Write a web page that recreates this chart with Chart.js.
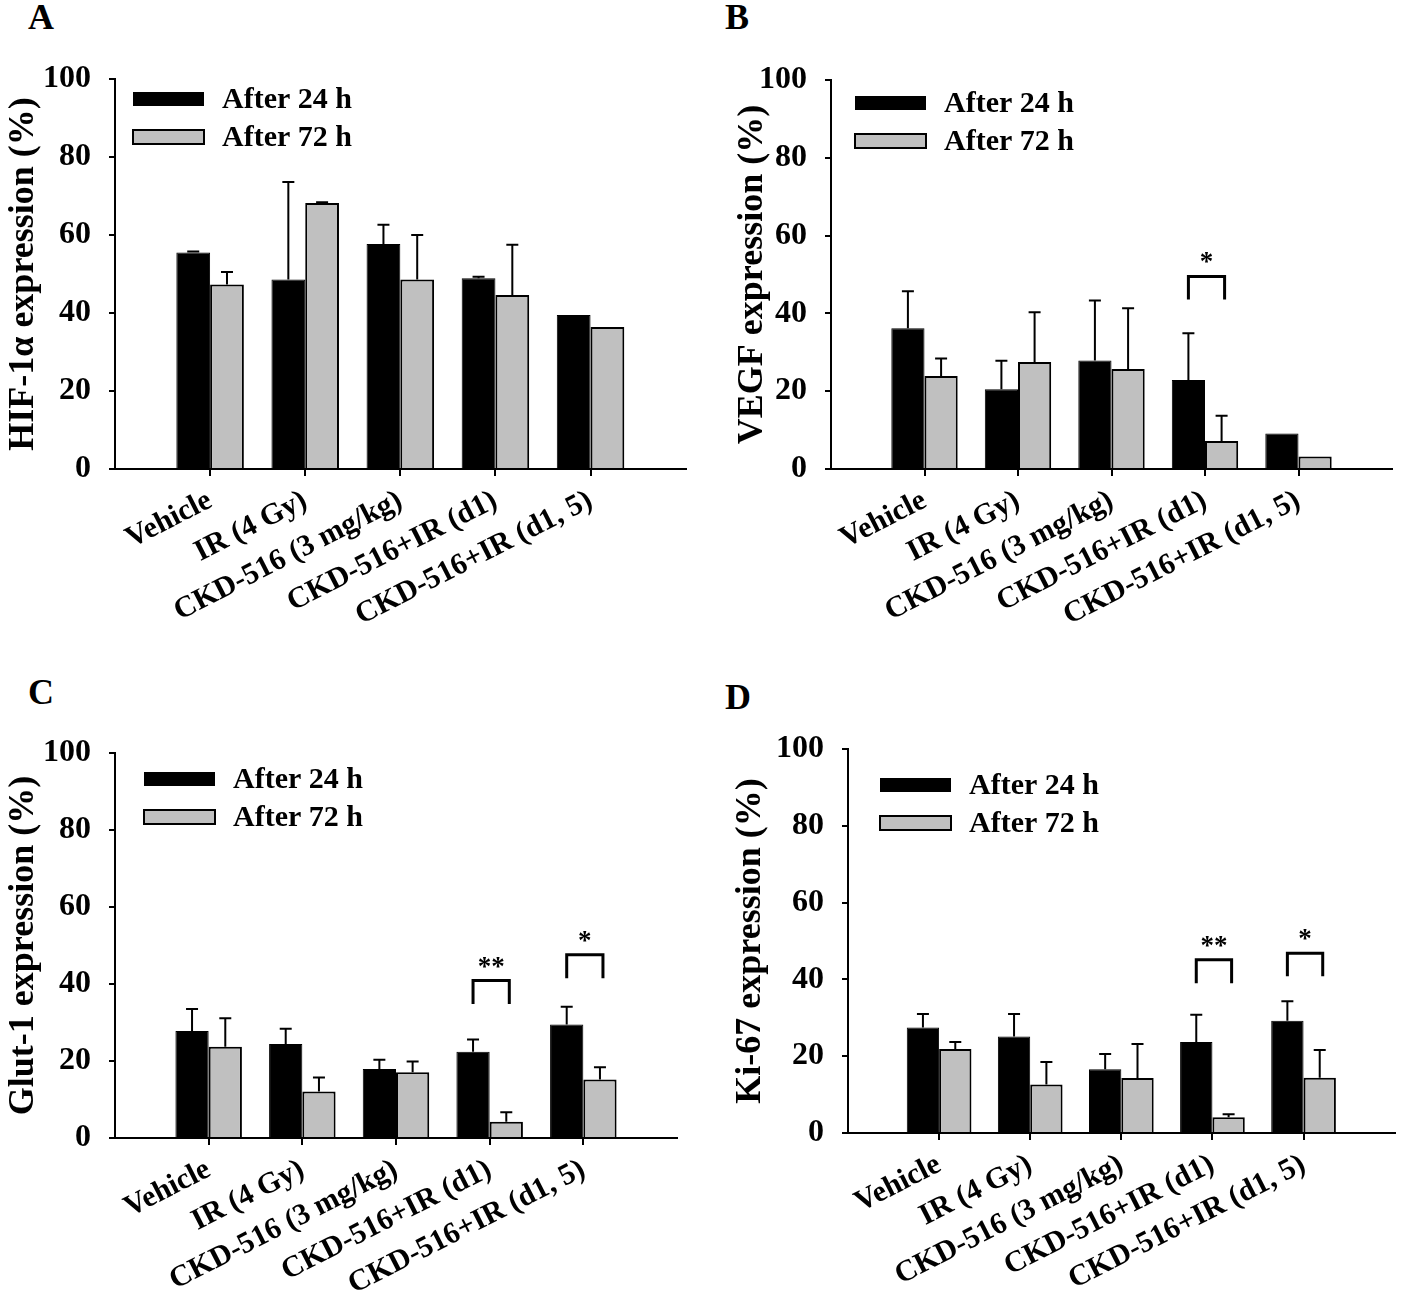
<!DOCTYPE html>
<html><head><meta charset="utf-8">
<script src="https://cdn.jsdelivr.net/npm/chart.js@4.4.1/dist/chart.umd.min.js"></script>
<style>
body{margin:0;background:#fff;}
#wrap{position:relative;width:1418px;height:1298px;overflow:hidden;background:#fff;}
canvas{position:absolute;}
.lbl{position:absolute;font-family:'Liberation Serif','Times New Roman',serif;font-weight:bold;font-size:36px;line-height:36px;color:#000;}
</style></head><body>
<div id="wrap">
<div class="lbl" style="left:28px;top:-1px">A</div>
<div class="lbl" style="left:725px;top:-1px">B</div>
<div class="lbl" style="left:28px;top:674px">C</div>
<div class="lbl" style="left:725px;top:679px">D</div>
<canvas id="cA" width="709" height="650" style="left:0;top:0"></canvas>
<canvas id="cB" width="709" height="650" style="left:709px;top:0"></canvas>
<canvas id="cC" width="709" height="648" style="left:0;top:650px"></canvas>
<canvas id="cD" width="709" height="648" style="left:709px;top:650px"></canvas>
</div>
<script>
// ---------- DATA ----------
const categories = ['Vehicle', 'IR (4 Gy)', 'CKD-516 (3 mg/kg)', 'CKD-516+IR (d1)', 'CKD-516+IR (d1, 5)'];
const seriesNames = ['After 24 h', 'After 72 h'];
const yTickValues = [0, 20, 40, 60, 80, 100];

// A: HIF-1α
const hifAfter24 = [55.5, 48.6, 57.7, 48.9, 39.5];
const hifErr24   = [0.3, 25.0, 4.9, 0.4, 0];
const hifAfter72 = [47.3, 68.2, 48.6, 44.6, 36.4];
const hifErr72   = [3.2, 0.2, 11.4, 12.9, 0];
const hifSigGroup = [], hifSigLow = [], hifSigHigh = [], hifSigText = [];

// B: VEGF
const vegfAfter24 = [36.2, 20.5, 27.9, 22.9, 9.1];
const vegfErr24   = [9.5, 7.3, 15.4, 12.0, 0];
const vegfAfter72 = [23.9, 27.5, 25.7, 7.2, 3.2];
const vegfErr72   = [4.5, 12.8, 15.6, 6.5, 0];
const vegfSigGroup = [3], vegfSigLow = [43.6], vegfSigHigh = [49.5], vegfSigText = ['*'];

// C: Glut-1
const glutAfter24 = [27.8, 24.4, 17.9, 22.4, 29.5];
const glutErr24   = [5.7, 4.0, 2.4, 3.2, 4.6];
const glutAfter72 = [23.7, 12.1, 17.1, 4.2, 15.2];
const glutErr72   = [7.4, 3.6, 2.8, 2.5, 3.2];
const glutSigGroup = [3, 4], glutSigLow = [34.8, 41.5], glutSigHigh = [40.9, 47.6], glutSigText = ['**', '*'];

// D: Ki-67
const kiAfter24 = [27.5, 25.1, 16.6, 23.7, 29.2];
const kiErr24   = [3.5, 5.9, 4.0, 7.1, 5.1];
const kiAfter72 = [21.9, 12.6, 14.3, 4.1, 14.4];
const kiErr72   = [1.8, 5.9, 8.9, 0.8, 7.2];
const kiSigGroup = [3, 4], kiSigLow = [39.0, 40.8], kiSigHigh = [45.1, 46.8], kiSigText = ['**', '*'];

// ---------- STYLE / LAYOUT ----------
const FONT = "'Liberation Serif', 'Times New Roman', serif";
const GRAY = '#c0c0c0';

const panels = [
  {id:'cA', title:'HIF-1\u03b1 expression (%)', a24:hifAfter24, e24:hifErr24, a72:hifAfter72, e72:hifErr72,
   sig:[hifSigGroup,hifSigLow,hifSigHigh,hifSigText],
   yW:115, padTop:79, padRight:21, xH:181, titlePad:2, legDx:18, legDy:13},
  {id:'cB', title:'VEGF expression (%)', a24:vegfAfter24, e24:vegfErr24, a72:vegfAfter72, e72:vegfErr72,
   sig:[vegfSigGroup,vegfSigLow,vegfSigHigh,vegfSigText],
   yW:122, padTop:80, padRight:26, xH:181, titlePad:22, legDx:24, legDy:16},
  {id:'cC', title:'Glut-1 expression (%)', a24:glutAfter24, e24:glutErr24, a72:glutAfter72, e72:glutErr72,
   sig:[glutSigGroup,glutSigLow,glutSigHigh,glutSigText],
   yW:115, padTop:103, padRight:32, xH:160, titlePad:2, legDx:29, legDy:19},
  {id:'cD', title:'Ki-67 expression (%)', a24:kiAfter24, e24:kiErr24, a72:kiAfter72, e72:kiErr72,
   sig:[kiSigGroup,kiSigLow,kiSigHigh,kiSigText],
   yW:139, padTop:99, padRight:3, xH:165, titlePad:20, legDx:32, legDy:29}
];

const pad = arr => [null, ...arr, null];
const labels = ['', ...categories, ''];

function extras(p){
  return {
    id: 'extras',
    afterDatasetsDraw(chart){
      const ctx = chart.ctx, y = chart.scales.y, ca = chart.chartArea;
      const vals = [p.a24, p.a72], errs = [p.e24, p.e72];
      ctx.save();
      ctx.strokeStyle = '#000'; ctx.fillStyle = '#000';
      // error bars (upper only)
      ctx.lineWidth = 2;
      for (let d = 0; d < 2; d++) {
        const meta = chart.getDatasetMeta(d);
        errs[d].forEach((e, i) => {
          if (!e) return;
          const el = meta.data[i + 1];
          const yt = y.getPixelForValue(vals[d][i] + e);
          ctx.beginPath();
          ctx.moveTo(el.x, el.y); ctx.lineTo(el.x, yt);
          ctx.moveTo(el.x - 6, yt); ctx.lineTo(el.x + 6, yt);
          ctx.stroke();
        });
      }
      // significance brackets
      const [g, lo, hi, tx] = p.sig;
      g.forEach((gi, k) => {
        const x1 = chart.getDatasetMeta(0).data[gi + 1].x;
        const x2 = chart.getDatasetMeta(1).data[gi + 1].x + 3;
        const yl = y.getPixelForValue(lo[k]), yh = y.getPixelForValue(hi[k]);
        ctx.lineWidth = 3;
        ctx.beginPath();
        ctx.moveTo(x1, yl); ctx.lineTo(x1, yh); ctx.lineTo(x2, yh); ctx.lineTo(x2, yl);
        ctx.stroke();
        ctx.font = 'bold 27px ' + FONT;
        ctx.textAlign = 'center'; ctx.textBaseline = 'alphabetic';
        ctx.fillText(tx[k], (x1 + x2) / 2, yh - 6);
      });
      // legend
      const lx = ca.left + p.legDx, ly = ca.top + p.legDy, bw = 71, bh = 14, gap = 38;
      ctx.fillStyle = '#000';
      ctx.fillRect(lx, ly, bw, bh);
      ctx.fillStyle = GRAY;
      ctx.fillRect(lx, ly + gap, bw, bh);
      ctx.lineWidth = 2; ctx.strokeStyle = '#000';
      ctx.strokeRect(lx, ly + gap, bw, bh);
      ctx.fillStyle = '#000';
      ctx.font = 'bold 30px ' + FONT;
      ctx.textAlign = 'left'; ctx.textBaseline = 'middle';
      ctx.fillText(seriesNames[0], lx + bw + 18, ly + bh / 2 + 1);
      ctx.fillText(seriesNames[1], lx + bw + 18, ly + gap + bh / 2 + 1);
      ctx.restore();
    }
  };
}

panels.forEach(p => {
  new Chart(document.getElementById(p.id), {
    type: 'bar',
    data: {
      labels: labels,
      datasets: [
        {label: seriesNames[0], data: pad(p.a24), backgroundColor: '#000', borderColor: '#000', borderWidth: 1},
        {label: seriesNames[1], data: pad(p.a72), backgroundColor: GRAY, borderColor: '#000', borderWidth: 2}
      ]
    },
    options: {
      responsive: false,
      animation: false,
      events: [],
      layout: {padding: {left: 0, top: p.padTop, right: p.padRight, bottom: 0}},
      datasets: {bar: {categoryPercentage: 0.71, barPercentage: 1.0}},
      plugins: {legend: {display: false}, tooltip: {enabled: false}},
      scales: {
        x: {
          offset: false,
          afterFit: s => { s.height = p.xH; },
          grid: {
            offset: false,
            drawOnChartArea: false, drawTicks: true, tickLength: 7, lineWidth: 2,
            color: c => (c.index === 0 || c.index === labels.length - 1) ? 'rgba(0,0,0,0)' : '#000'
          },
          border: {display: true, color: '#000', width: 2},
          ticks: {
            autoSkip: false, minRotation: 27, maxRotation: 27, padding: 7,
            color: '#000', font: {family: FONT, weight: 'bold', size: 30}
          }
        },
        y: {
          min: 0, max: 100,
          afterFit: s => { s.width = p.yW; },
          afterBuildTicks: s => { s.ticks = yTickValues.map(v => ({value: v})); },
          grid: {drawOnChartArea: false, drawTicks: true, tickLength: 6, lineWidth: 2, color: '#000'},
          border: {display: true, color: '#000', width: 2},
          ticks: {padding: 18, color: '#000', font: {family: FONT, weight: 'bold', size: 32}},
          title: {display: true, text: p.title, color: '#000', padding: {top: p.titlePad, bottom: 0},
                  font: {family: FONT, weight: 'bold', size: 36}}
        }
      }
    },
    plugins: [extras(p)]
  });
});
</script>
</body></html>
